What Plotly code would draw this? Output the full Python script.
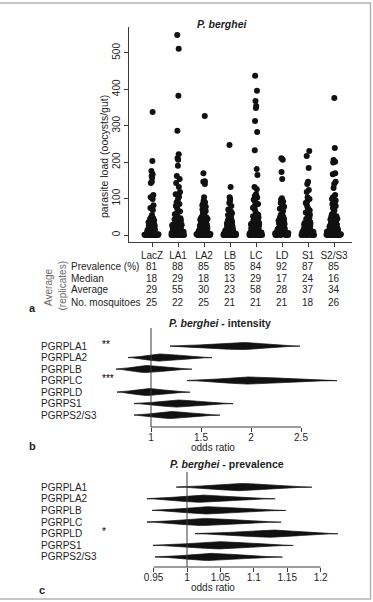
import numpy as np
import plotly.graph_objects as go

W, H = 373, 602
FONT = "Liberation Sans, Arial, Helvetica, sans-serif"
TXT = "#1e1e1e"
AX = "#3a3a3a"


def fx(p):
    return p / W


def fy(p):
    return 1 - p / H


# ---------------- panel a data ----------------
groups = ["LacZ", "LA1", "LA2", "LB", "LC", "LD", "S1", "S2/S3"]

load_LacZ = [0, 0, 0, 0, 0, 0, 0, 0, 0, 0, 0, 0,
             1, 1, 2, 2, 3, 3, 4, 5, 5, 6, 7, 8, 8, 9, 10, 11, 12, 13, 14, 15, 17, 18, 19,
             20, 22, 24, 25, 27, 29, 31, 33, 35, 37, 40, 42, 44, 46, 48,
             55, 69, 74, 82, 99, 104, 110, 143, 146, 157, 162, 167, 176, 203, 338]
load_LA1 = [0, 0, 0, 0, 0, 0, 0, 0,
            1, 2, 3, 4, 5, 6, 8, 9, 10, 11, 12, 14, 15, 16, 18, 19, 20, 21, 23, 24, 25, 26,
            27, 28, 29, 30, 32, 34, 36, 38, 40, 43, 46, 49,
            53, 57, 60, 65, 72, 80, 85, 90, 99, 105, 112, 118, 132, 143, 154, 162, 190, 207,
            211, 222, 286, 382, 511, 549]
load_LA2 = [0, 0, 0, 0, 0, 0, 0, 0, 0, 0, 0,
            1, 1, 2, 2, 3, 3, 4, 4, 5, 5, 6, 6, 7, 8, 8, 9, 10, 10, 11, 12, 13, 14, 15, 16,
            17, 18, 19, 20, 21, 22, 23, 25, 26, 28, 30, 31, 33, 35, 37, 38, 40, 42, 44, 45,
            47, 48, 50,
            54, 58, 62, 66, 70, 74, 78, 82, 85, 90, 94, 104, 140, 146, 148, 170, 327]
load_LB = [0, 0, 0, 0, 0, 0, 0, 0, 0,
           1, 1, 2, 2, 3, 3, 4, 4, 5, 5, 6, 6, 7, 7, 8, 9, 9, 10, 11, 12, 12, 13, 14, 15, 16,
           17, 18, 19, 20, 22, 24, 26, 28, 30, 32, 34, 36, 38, 40, 43, 45, 47, 50,
           55, 60, 65, 70, 80, 88, 92, 99, 104, 132, 247]
load_LC = [0, 0, 0, 0, 0, 0, 0, 0, 0, 0,
           1, 2, 3, 4, 6, 7, 9, 10, 12, 13, 15, 16, 18, 19, 20, 22, 24, 26, 28, 29, 30, 31,
           33, 35, 38, 40, 42, 45, 48,
           52, 56, 62, 70, 75, 80, 85, 90, 97, 103, 107, 112, 126, 132, 165, 181, 233, 283,
           313, 349, 354, 368, 396, 437]
load_LD = [0, 0, 0, 0, 0,
           1, 1, 2, 2, 3, 3, 4, 4, 5, 5, 6, 6, 7, 7, 8, 8, 9, 10, 10, 11, 12, 13, 14, 15, 16,
           17, 18, 19, 20, 22, 24, 26, 28, 30, 32, 34, 36, 38, 40, 42, 44, 46, 48, 50,
           55, 60, 66, 72, 78, 82, 88, 92, 97, 101, 154, 173, 207, 211]
load_S1 = [0, 0, 0, 0, 0, 0, 0,
           1, 2, 3, 4, 5, 6, 7, 8, 9, 10, 11, 12, 13, 14, 15, 17, 18, 20, 22, 24, 25, 27, 29,
           31, 33, 35, 38, 41, 44, 47, 50,
           56, 62, 68, 74, 80, 88, 92, 99, 104, 118, 124, 140, 146, 184, 217, 231]
load_S2S3 = [0, 0, 0, 0, 0, 0, 0, 0, 0, 0, 0, 0,
             1, 1, 2, 2, 3, 3, 4, 4, 5, 5, 6, 6, 7, 7, 8, 8, 9, 9, 10, 10, 11, 12, 13, 14, 15,
             16, 17, 18, 19, 20, 22, 24, 26, 28, 30, 32, 34, 36, 38, 40, 43, 45, 47, 50,
             52, 57, 63, 68, 74, 80, 85, 90, 95, 99, 104, 110, 129, 140, 146, 167, 170, 199,
             201, 206, 239, 376]
loads = [load_LacZ, load_LA1, load_LA2, load_LB, load_LC, load_LD, load_S1, load_S2S3]

y_ticks_a = [0, 100, 200, 300, 400, 500]

table_labels = ["Prevalence (%)", "Median", "Average", "No. mosquitoes"]
prevalence = [81, 88, 85, 85, 84, 92, 87, 85]
median = [18, 29, 18, 13, 29, 17, 24, 16]
average = [29, 55, 30, 23, 58, 28, 37, 34]
n_mosquitoes = [25, 22, 25, 21, 21, 21, 18, 26]
table_values = [prevalence, median, average, n_mosquitoes]

# ---------------- panels b, c data ----------------
genes = ["PGRPLA1", "PGRPLA2", "PGRPLB", "PGRPLC", "PGRPLD", "PGRPS1", "PGRPS2/S3"]

b_lo = [1.19, 0.77, 0.65, 1.36, 0.66, 0.83, 0.83]
b_est = [1.91, 1.08, 0.94, 1.97, 0.96, 1.26, 1.19]
b_hi = [2.49, 1.61, 1.41, 2.86, 1.39, 1.82, 1.69]
b_stars = ["**", "", "", "***", "", "", ""]
b_ticks = [1, 1.5, 2, 2.5]
b_ticktext = ["1", "1.5", "2", "2.5"]

c_lo = [0.984, 0.940, 0.948, 0.940, 1.012, 0.949, 0.952]
c_est = [1.079, 1.019, 1.030, 1.023, 1.126, 1.049, 1.034]
c_hi = [1.187, 1.132, 1.148, 1.141, 1.226, 1.159, 1.143]
c_stars = ["", "", "", "", "*", "", ""]
c_ticks = [0.95, 1, 1.05, 1.1, 1.15, 1.2]
c_ticktext = ["0.95", "1", "1.05", "1.1", "1.15", "1.2"]

fig = go.Figure()

# strip plot of parasite loads (library jitter)
for g, vals in zip(groups, loads):
    fig.add_trace(go.Box(
        x=[g] * len(vals), y=vals, name=g,
        boxpoints="all", jitter=1.0, pointpos=0,
        marker=dict(color="#111111", size=6, line=dict(width=0)),
        line=dict(width=0, color="rgba(0,0,0,0)"),
        fillcolor="rgba(0,0,0,0)", whiskerwidth=0,
        showlegend=False, hoverinfo="skip",
        xaxis="x", yaxis="y",
    ))


def spindle(lo, est, hi, row, half=0.31, n=70):
    xl = np.linspace(lo, est, n)
    xr = np.linspace(est, hi, n)[1:]
    x = np.concatenate([xl, xr])
    s = np.where(x < est, (est - lo) / 2.6, (hi - est) / 2.6)
    h = half * np.exp(-0.5 * ((x - est) / s) ** 2)
    xs = np.concatenate([x, x[::-1]])
    ys = np.concatenate([row - h, (row + h)[::-1]])
    return xs, ys


for (lo_a, est_a, hi_a, xa, ya) in [(b_lo, b_est, b_hi, "x2", "y2"),
                                    (c_lo, c_est, c_hi, "x3", "y3")]:
    for i in range(len(genes)):
        xs, ys = spindle(lo_a[i], est_a[i], hi_a[i], i)
        fig.add_trace(go.Scatter(
            x=xs, y=ys, mode="lines", fill="toself",
            fillcolor="#111111", line=dict(color="#111111", width=0.7),
            showlegend=False, hoverinfo="skip", xaxis=xa, yaxis=ya,
        ))

ann = []
shapes = []


def A(text, x, y, xref="paper", yref="paper", size=10, xanchor="center",
      yanchor="middle", angle=0, color=TXT):
    ann.append(dict(text=text, x=x, y=y, xref=xref, yref=yref, showarrow=False,
                    xanchor=xanchor, yanchor=yanchor, textangle=angle,
                    font=dict(family=FONT, size=size, color=color)))


# panel a texts
A("<b><i>P. berghei</i></b>", fx(222), fy(24), size=10.5)
A("parasite load (oocysts/gut)", fx(104), fy(157), angle=-90, size=10.5)
row_y = [266, 278.5, 290, 302]
for lab, vals, ry in zip(table_labels, table_values, row_y):
    A(lab, fx(69), fy(ry), xanchor="left")
    for g, v in zip(groups, vals):
        A(str(v), g, fy(ry), xref="x")
A("Average", fx(48), fy(287), angle=-90, color="#6a6a6a")
A("(replicates)", fx(61.5), fy(286), angle=-90, color="#6a6a6a")
A("<b>a</b>", fx(32), fy(308), size=11)

# panel b texts
A("<b><i>P. berghei</i> - intensity</b>", fx(220), fy(323), size=10.5)
for i, (gname, st) in enumerate(zip(genes, b_stars)):
    A(gname, fx(39), i, yref="y2", xanchor="left")
    if st:
        A(st, fx(100), i - 0.15, yref="y2", xanchor="left", color="#000000")
A("odds ratio", fx(213), fy(447))
A("<b>b</b>", fx(32), fy(446), size=11)

# panel c texts
A("<b><i>P. berghei</i> - prevalence</b>", fx(227), fy(464), size=10.5)
for i, (gname, st) in enumerate(zip(genes, c_stars)):
    A(gname, fx(39), i, yref="y3", xanchor="left")
    if st:
        A(st, fx(100), i - 0.15, yref="y3", xanchor="left", color="#000000")
A("odds ratio", fx(213), fy(587.5))
A("<b>c</b>", fx(42), fy(590), size=11)

# reference lines and partial axis lines
for xa, ya, ticks in [("x2", "y2", b_ticks), ("x3", "y3", c_ticks)]:
    shapes.append(dict(type="line", xref=xa, yref=ya + " domain", x0=1, x1=1, y0=0, y1=1,
                       line=dict(color=AX, width=1)))
    shapes.append(dict(type="line", xref=xa, yref=ya + " domain", x0=ticks[0], x1=ticks[-1],
                       y0=0, y1=0, line=dict(color=AX, width=1)))

# outer frame
shapes.append(dict(type="rect", xref="paper", yref="paper", x0=fx(-2), x1=fx(370.5),
                   y0=fy(599), y1=fy(3), line=dict(color="#b4b4b4", width=1.5)))

tickfont = dict(family=FONT, size=10, color=TXT)
common_x = dict(ticks="outside", ticklen=4, tickwidth=1, tickcolor=AX, showgrid=False,
                zeroline=False, tickfont=tickfont)

fig.update_layout(
    width=W, height=H, margin=dict(l=0, r=0, t=0, b=0),
    paper_bgcolor="white", plot_bgcolor="white",
    font=dict(family=FONT, size=10, color=TXT),
    boxmode="overlay", boxgap=0.15, showlegend=False,
    xaxis=dict(domain=[fx(129), fx(352)], range=[-0.885, 7.69], type="category",
               categoryorder="array", categoryarray=groups, tickvals=groups,
               showline=True, linecolor=AX, linewidth=1, anchor="y", **common_x),
    yaxis=dict(domain=[fy(242), fy(27)], range=[-19, 571], tickvals=y_ticks_a,
               tickangle=-90, ticks="outside", ticklen=4, tickwidth=1, tickcolor=AX,
               showline=True, linecolor=AX, linewidth=1, showgrid=False, zeroline=False,
               tickfont=tickfont, anchor="x"),
    xaxis2=dict(domain=[fx(100), fx(350)], range=[0.49, 2.99], tickvals=b_ticks,
                ticktext=b_ticktext, showline=False, anchor="y2", ticklabelstandoff=-3,
                **common_x),
    yaxis2=dict(domain=[fy(427), fy(328)], range=[7.04, -1.57], visible=False, anchor="x2"),
    xaxis3=dict(domain=[fx(120), fx(350)], range=[0.8997, 1.244], tickvals=c_ticks,
                ticktext=c_ticktext, showline=False, anchor="y3", ticklabelstandoff=-3,
                **common_x),
    yaxis3=dict(domain=[fy(567), fy(472)], range=[6.86, -1.29], visible=False, anchor="x3"),
    annotations=ann, shapes=shapes,
)

fig.write_html("out.html")
